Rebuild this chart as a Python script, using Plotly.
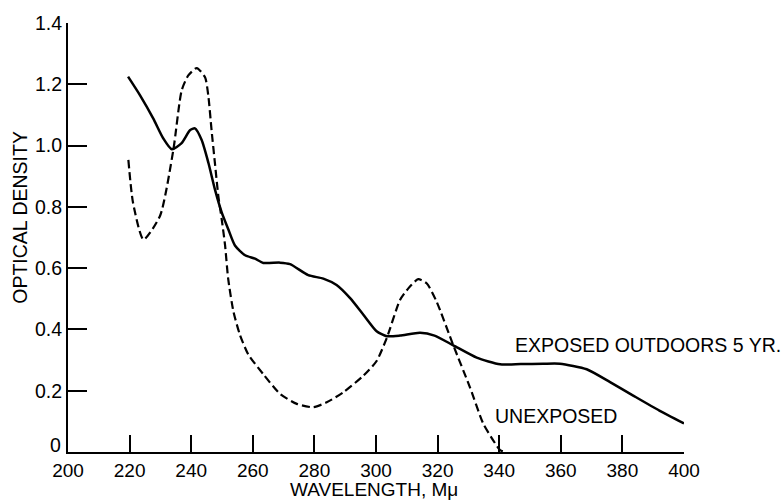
import plotly.graph_objects as go

# Exposed outdoors 5 yr (solid)
exposed_x = [219.5, 223.4, 227.7, 230.9, 233.7, 236.9, 239.6, 241.2, 243.4, 245.6, 247.7, 249.9,
             252, 254.2, 257.5, 260.7, 263.4, 268.8, 272.1, 278, 282.9, 287.2, 291.6, 295.9,
             300.2, 303.5, 307.8, 314.3, 319, 325.1, 332.7, 340.3, 347, 354.3, 359.7, 368.4,
             376, 383.5, 392, 400]
exposed_y = [1.225, 1.164, 1.088, 1.024, 0.988, 1.008, 1.05, 1.056, 1.018, 0.943, 0.857, 0.782,
             0.728, 0.674, 0.642, 0.631, 0.617, 0.618, 0.613, 0.577, 0.566, 0.545, 0.502, 0.448,
             0.394, 0.378, 0.38, 0.389, 0.38, 0.348, 0.308, 0.286, 0.287, 0.288, 0.288, 0.27,
             0.228, 0.184, 0.135, 0.093]

# Unexposed (dashed)
unexposed_x = [219.6, 221.1, 224.5, 229.9, 234.2, 236.9, 239, 241.8, 244.5, 245.6, 246.6, 247.7,
               248.8, 249.9, 251, 252, 253.7, 255.8, 258.5, 263.4, 268.8, 274.3, 279.6, 284,
               289.4, 295.9, 300.2, 303.5, 307.8, 310.5, 313.7, 316.5, 319.7, 325.1, 330.5,
               334.8, 338, 340.3, 342]
unexposed_y = [0.953, 0.814, 0.693, 0.771, 0.986, 1.18, 1.228, 1.253, 1.223, 1.159, 1.051, 0.943,
               0.836, 0.76, 0.674, 0.566, 0.459, 0.383, 0.319, 0.254, 0.19, 0.157, 0.146, 0.162,
               0.195, 0.249, 0.297, 0.372, 0.496, 0.534, 0.564, 0.55, 0.49, 0.348, 0.211,
               0.093, 0.039, 0.006, 0.0]

x_ticks = [200, 220, 240, 260, 280, 300, 320, 340, 360, 380, 400]
y_ticks = [0, 0.2, 0.4, 0.6, 0.8, 1.0, 1.2, 1.4]
y_tick_text = ["", "0.2", "0.4", "0.6", "0.8", "1.0", "1.2", "1.4"]
y_zero_label = "0"

FONT = "Liberation Sans, Arial, Helvetica, sans-serif"

L, R, T, B = 68, 99, 18, 49
W, H = 783, 501
plot_w = W - L - R
plot_h = H - T - B

fig = go.Figure()
fig.add_trace(go.Scatter(x=exposed_x, y=exposed_y, mode="lines",
                         line=dict(color="black", width=2.5, shape="spline", smoothing=0.6),
                         name="EXPOSED OUTDOORS 5 YR.", showlegend=False))
fig.add_trace(go.Scatter(x=unexposed_x, y=unexposed_y, mode="lines",
                         line=dict(color="black", width=2.2, dash="8px,4px", shape="spline", smoothing=0.6),
                         name="UNEXPOSED", showlegend=False))

fig.update_layout(
    width=W, height=H,
    margin=dict(l=L, r=R, t=T, b=B),
    paper_bgcolor="white", plot_bgcolor="white",
    font=dict(family=FONT, color="black", size=19),
    xaxis=dict(range=[200, 400], tickmode="array", tickvals=x_ticks,
               ticks="inside", ticklen=17, tickwidth=1.5, tickcolor="black",
               showline=True, linecolor="black", linewidth=2, showgrid=False, zeroline=False,
               tickfont=dict(size=19)),
    yaxis=dict(range=[0, 1.4], tickmode="array", tickvals=y_ticks, ticktext=y_tick_text,
               ticks="inside", ticklen=19, tickwidth=1.5, tickcolor="black",
               showline=True, linecolor="black", linewidth=2, showgrid=False, zeroline=False,
               tickfont=dict(size=19.5)),
    annotations=[
        dict(x=344.4, y=0.349, xref="x", yref="y", text="EXPOSED OUTDOORS 5 YR.",
             showarrow=False, xanchor="left", yanchor="middle", font=dict(size=19.5)),
        dict(x=337.9, y=0.116, xref="x", yref="y", text="UNEXPOSED",
             showarrow=False, xanchor="left", yanchor="middle", font=dict(size=19.5)),
        dict(x=(20 - L) / plot_w, y=(H - B - 215) / plot_h, xref="paper", yref="paper",
             text="OPTICAL DENSITY", showarrow=False, textangle=-90,
             xanchor="center", yanchor="middle", font=dict(size=19.5)),
        dict(x=(373.5 - L) / plot_w, y=-(489.5 - (H - B)) / plot_h, xref="paper", yref="paper",
             text="WAVELENGTH, Mμ", showarrow=False,
             xanchor="center", yanchor="middle", font=dict(size=19)),
        dict(x=(63 - L) / plot_w, y=0, xref="paper", yref="y", yshift=7,
             text=y_zero_label, showarrow=False, xanchor="right", yanchor="middle",
             font=dict(size=19.5)),
    ],
)

fig.write_html("out.html")
